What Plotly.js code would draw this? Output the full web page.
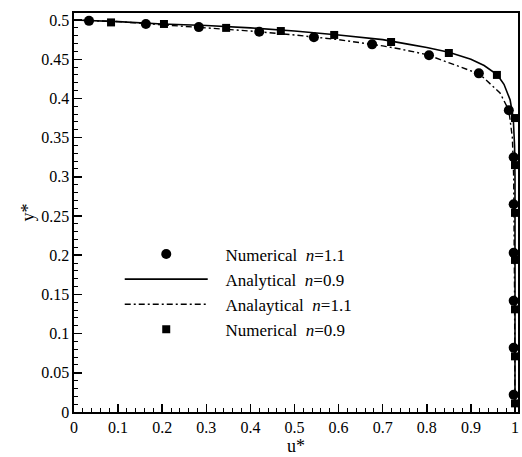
<!DOCTYPE html>
<html>
<head>
<meta charset="utf-8">
<script src="https://cdn.plot.ly/plotly-3.0.1.min.js"></script>
<style>html,body{margin:0;padding:0;background:#fff;}#chart{width:522px;height:457px;}</style>
</head>
<body>
<div id="chart"></div>
<script>
// Numerical n=1.1 (circles)
const numN11U = [0.034, 0.163, 0.283, 0.42, 0.544, 0.676, 0.805, 0.918, 0.986, 0.997, 0.997, 0.997, 0.997, 0.997, 0.997];
const numN11Y = [0.499, 0.495, 0.491, 0.485, 0.478, 0.469, 0.455, 0.432, 0.385, 0.325, 0.265, 0.203, 0.142, 0.082, 0.022];
// Numerical n=0.9 (squares)
const numN09U = [0.084, 0.204, 0.345, 0.469, 0.590, 0.719, 0.850, 0.959, 1.0, 1.0, 1.0, 1.0, 1.0, 1.0, 1.0];
const numN09Y = [0.497, 0.495, 0.490, 0.486, 0.481, 0.472, 0.458, 0.430, 0.375, 0.315, 0.254, 0.194, 0.131, 0.071, 0.011];
// Analytical n=0.9 (solid)
const anaN09U = [0, 0.1, 0.2, 0.3, 0.4, 0.5, 0.6, 0.7, 0.76, 0.8, 0.85, 0.9, 0.93, 0.96, 0.975, 0.989, 0.996, 0.999, 1.0, 1.0];
const anaN09Y = [0.5, 0.498, 0.495, 0.493, 0.490, 0.486, 0.481, 0.475, 0.469, 0.465, 0.459, 0.450, 0.442, 0.430, 0.418, 0.398, 0.375, 0.34, 0.30, 0];
// Analytical n=1.1 (dash-dot)
const anaN11U = [0, 0.1, 0.2, 0.3, 0.4, 0.5, 0.6, 0.7, 0.74, 0.8, 0.875, 0.92, 0.966, 0.986, 0.994, 0.997, 0.999, 1.0];
const anaN11Y = [0.5, 0.498, 0.494, 0.490, 0.486, 0.481, 0.475, 0.467, 0.463, 0.456, 0.441, 0.431, 0.407, 0.385, 0.35, 0.30, 0.15, 0];

const labels = ['&nbsp;&nbsp;&nbsp;Numerical  <i>n</i>=1.1', '&nbsp;&nbsp;&nbsp;Analytical  <i>n</i>=0.9', '&nbsp;&nbsp;&nbsp;Analaytical  <i>n</i>=1.1', '&nbsp;&nbsp;&nbsp;Numerical  <i>n</i>=0.9'];

const traces = [
  {x: numN11U, y: numN11Y, mode: 'markers', name: labels[0], marker: {symbol: 'circle', size: 10, color: '#000'}},
  {x: anaN09U, y: anaN09Y, mode: 'lines', name: labels[1], line: {color: '#000', width: 1.6}},
  {x: anaN11U, y: anaN11Y, mode: 'lines', name: labels[2], line: {color: '#000', width: 1.4, dash: '6px,3px,2px,3px'}},
  {x: numN09U, y: numN09Y, mode: 'markers', name: labels[3], marker: {symbol: 'square', size: 8, color: '#000'}}
];

const fam = "'Liberation Serif', 'Times New Roman', Times, serif";

const layout = {
  width: 522, height: 457,
  margin: {l: 74, r: 4, t: 13, b: 45},
  paper_bgcolor: '#fff', plot_bgcolor: '#fff',
  font: {family: fam, size: 16, color: '#000'},
  showlegend: true,
  legend: {
    x: 0.103, y: 0.44, xanchor: 'left', yanchor: 'top',
    bgcolor: 'rgba(0,0,0,0)', borderwidth: 0,
    font: {family: fam, size: 17, color: '#000'},
    itemwidth: 83, tracegroupgap: 0
  },
  xaxis: {
    range: [0, 1.0068], dtick: 0.1, tick0: 0,
    ticks: 'inside', ticklen: 8, tickwidth: 1.5, tickcolor: '#000',
    minor: {dtick: 0.02, ticks: 'inside', ticklen: 4, tickwidth: 1, tickcolor: '#000'},
    showgrid: false, zeroline: false,
    showline: true, linewidth: 1.6, linecolor: '#000', mirror: true,
    tickfont: {family: fam, size: 16, color: '#000'},
    title: {text: 'u*', font: {family: fam, size: 18, color: '#000'}, standoff: 0}
  },
  yaxis: {
    range: [0, 0.509], dtick: 0.05, tick0: 0,
    ticks: 'inside', ticklen: 8, tickwidth: 1.5, tickcolor: '#000',
    minor: {dtick: 0.01, ticks: 'inside', ticklen: 4, tickwidth: 1, tickcolor: '#000'},
    showgrid: false, zeroline: false,
    showline: true, linewidth: 1.6, linecolor: '#000', mirror: true,
    tickfont: {family: fam, size: 16, color: '#000'},
    title: {text: 'y*', font: {family: fam, size: 18, color: '#000'}, standoff: 2}
  }
};

Plotly.newPlot('chart', traces, layout, {displayModeBar: false, staticPlot: true});
</script>
</body>
</html>
